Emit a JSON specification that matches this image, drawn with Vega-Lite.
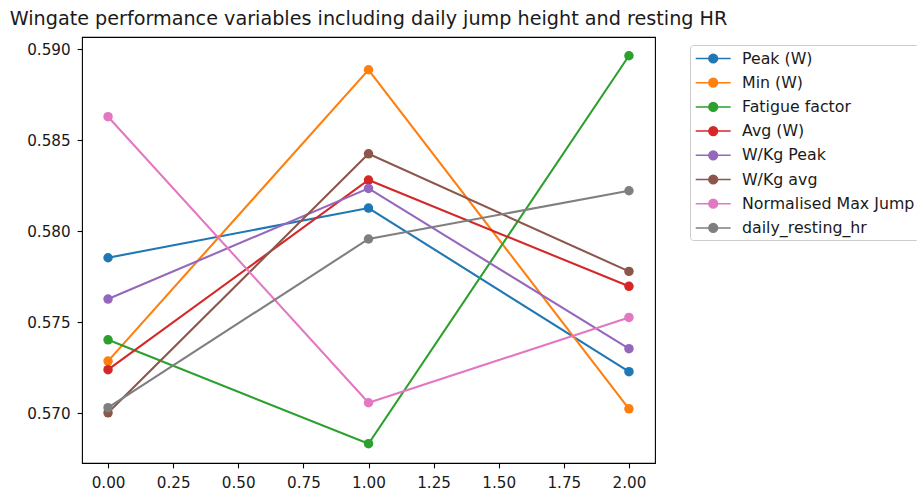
{
  "$schema": "https://vega.github.io/schema/vega-lite/v6.json",
  "width": 573,
  "height": 426,
  "autosize": {"type": "none"},
  "padding": {"left": 82, "top": 37, "right": 262, "bottom": 30},
  "title": {
    "text": "Wingate performance variables including daily jump height and resting HR",
    "font": "DejaVu Sans",
    "fontSize": 19.2,
    "fontWeight": "normal",
    "color": "#1a1a1a",
    "anchor": "middle",
    "baseline": "alphabetic",
    "offset": 8.3,
    "dy": 15
  },
  "config": {
    "font": "DejaVu Sans",
    "view": {"stroke": "black", "strokeWidth": 1.1}
  },
  "data": {
    "values": [
      {"x": 0, "series": "Peak (W)", "value": 0.57855},
      {"x": 1, "series": "Peak (W)", "value": 0.58128},
      {"x": 2, "series": "Peak (W)", "value": 0.57229},
      {"x": 0, "series": "Min (W)", "value": 0.57287},
      {"x": 1, "series": "Min (W)", "value": 0.58888},
      {"x": 2, "series": "Min (W)", "value": 0.57025},
      {"x": 0, "series": "Fatigue factor", "value": 0.57404},
      {"x": 1, "series": "Fatigue factor", "value": 0.56833},
      {"x": 2, "series": "Fatigue factor", "value": 0.58965},
      {"x": 0, "series": "Avg (W)", "value": 0.5724},
      {"x": 1, "series": "Avg (W)", "value": 0.58282},
      {"x": 2, "series": "Avg (W)", "value": 0.57698},
      {"x": 0, "series": "W/Kg Peak", "value": 0.57628},
      {"x": 1, "series": "W/Kg Peak", "value": 0.58236},
      {"x": 2, "series": "W/Kg Peak", "value": 0.57355},
      {"x": 0, "series": "W/Kg avg", "value": 0.57003},
      {"x": 1, "series": "W/Kg avg", "value": 0.58426},
      {"x": 2, "series": "W/Kg avg", "value": 0.5778},
      {"x": 0, "series": "Normalised Max Jump", "value": 0.5863},
      {"x": 1, "series": "Normalised Max Jump", "value": 0.57058},
      {"x": 2, "series": "Normalised Max Jump", "value": 0.57527},
      {"x": 0, "series": "daily_resting_hr", "value": 0.57031},
      {"x": 1, "series": "daily_resting_hr", "value": 0.57958},
      {"x": 2, "series": "daily_resting_hr", "value": 0.58223}
    ]
  },
  "encoding": {
    "x": {
      "field": "x",
      "type": "quantitative",
      "title": null,
      "scale": {"domain": [-0.1, 2.1], "nice": false, "zero": false},
      "axis": {
        "values": [0, 0.25, 0.5, 0.75, 1, 1.25, 1.5, 1.75, 2],
        "format": ".2f",
        "grid": false,
        "domain": false,
        "tickColor": "black",
        "tickSize": 4.86,
        "tickWidth": 1.1,
        "labelPadding": 8,
        "labelFontSize": 15.2,
        "labelColor": "#1a1a1a",
        "labelFont": "DejaVu Sans"
      }
    },
    "y": {
      "field": "value",
      "type": "quantitative",
      "title": null,
      "scale": {"domain": [0.56727, 0.59068], "nice": false, "zero": false},
      "axis": {
        "values": [0.57, 0.575, 0.58, 0.585, 0.59],
        "format": ".3f",
        "grid": false,
        "domain": false,
        "tickColor": "black",
        "tickSize": 4.86,
        "tickWidth": 1.1,
        "labelPadding": 7,
        "labelFontSize": 15.2,
        "labelColor": "#1a1a1a",
        "labelFont": "DejaVu Sans"
      }
    },
    "color": {
      "field": "series",
      "type": "nominal",
      "scale": {
        "domain": ["Peak (W)", "Min (W)", "Fatigue factor", "Avg (W)", "W/Kg Peak", "W/Kg avg", "Normalised Max Jump", "daily_resting_hr"],
        "range": ["#1f77b4", "#ff7f0e", "#2ca02c", "#d62728", "#9467bd", "#8c564b", "#e377c2", "#7f7f7f"]
      },
      "legend": {
        "title": null,
        "orient": "none",
        "legendX": 608,
        "legendY": 8,
        "padding": 4,
        "strokeColor": "#cccccc",
        "fillColor": "rgba(255,255,255,0.8)",
        "cornerRadius": 3,
        "labelFont": "DejaVu Sans",
        "labelFontSize": 15.8,
        "labelColor": "#1a1a1a",
        "labelLimit": 0,
        "labelOffset": 29,
        "rowPadding": 6.2,
        "symbolType": "M-0.89,0H3.11M0.61,0A0.5,0.5 0 1,0 1.61,0A0.5,0.5 0 1,0 0.61,0Z",
        "symbolSize": 306,
        "symbolStrokeWidth": 1.5,
        "symbolOpacity": 1,
        "encode": {
          "symbols": {
            "update": {
              "fill": {"scale": "color", "field": "value"},
              "stroke": {"scale": "color", "field": "value"},
              "opacity": {"value": 1}
            }
          }
        }
      }
    }
  },
  "layer": [
    {"mark": {"type": "line", "strokeWidth": 2.08}},
    {"mark": {"type": "point", "filled": true, "opacity": 1, "size": 90}}
  ]
}
